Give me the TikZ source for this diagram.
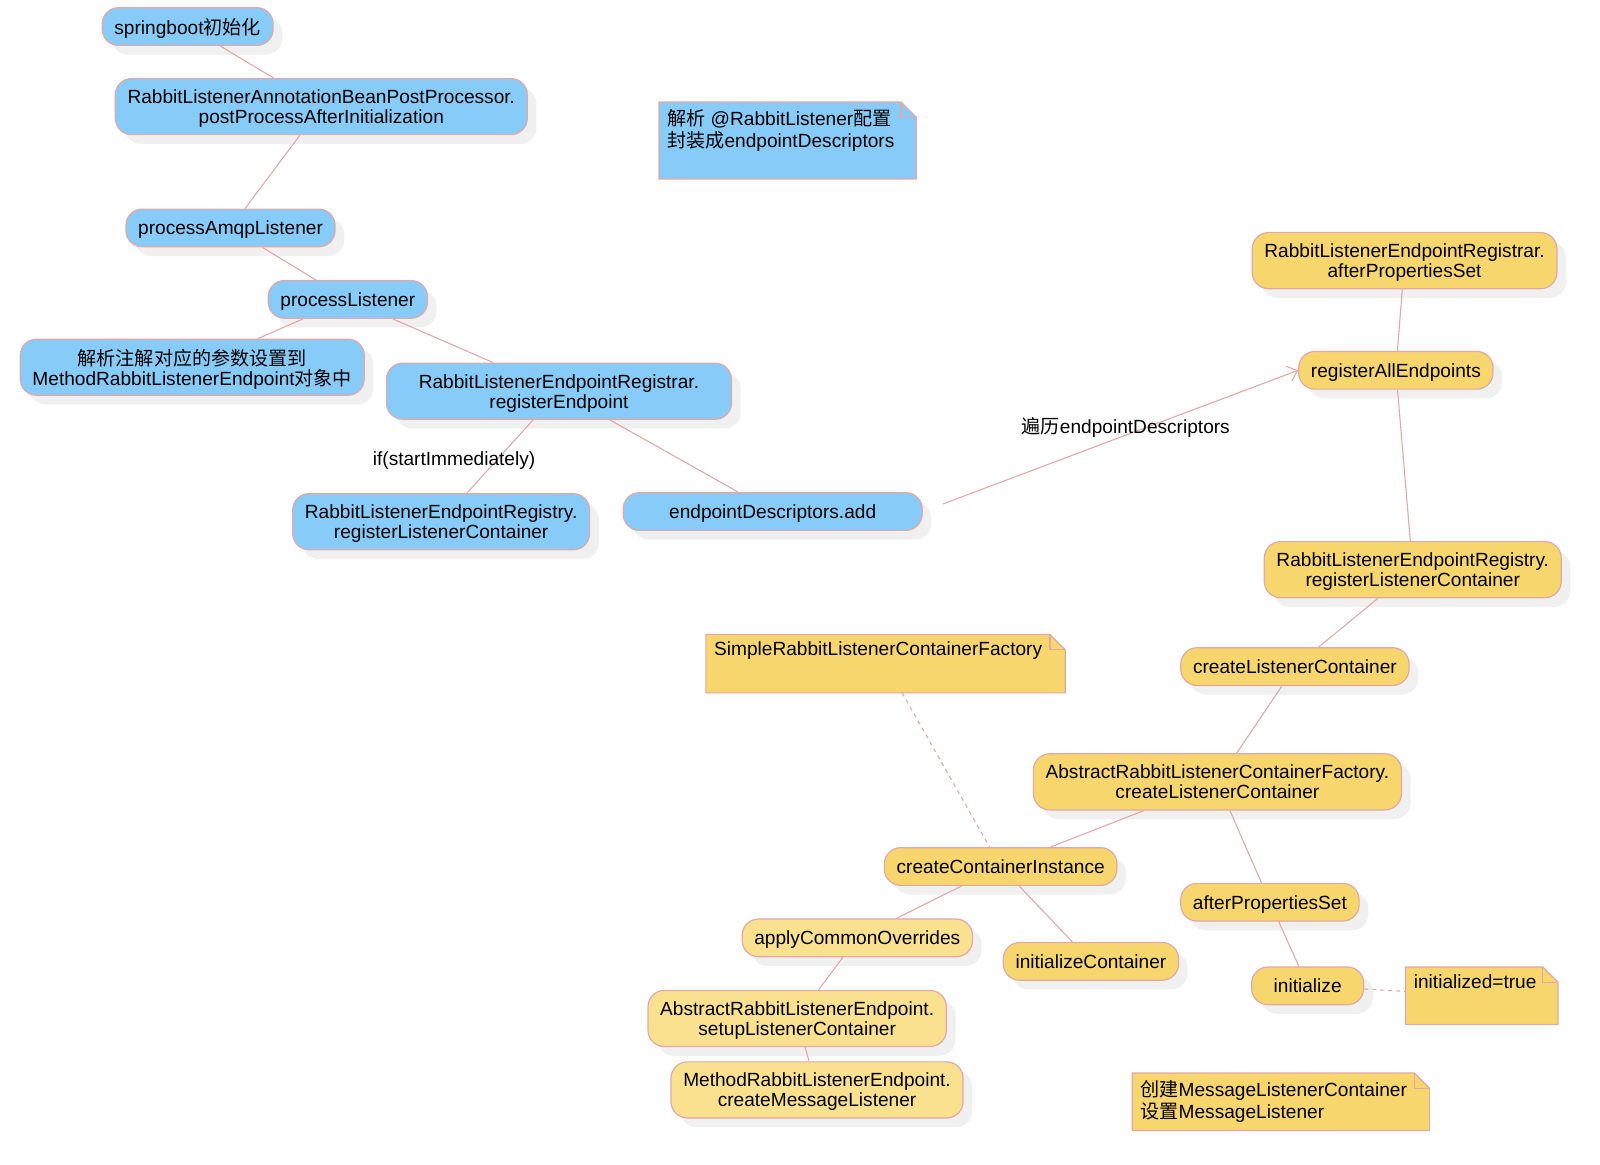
\documentclass[tikz,border=0pt]{standalone}
\usepackage{fontspec}
\setmainfont{Liberation Sans}
\newfontfamily\cjk{Noto Sans CJK SC}
\usetikzlibrary{shadows,arrows.meta}
\definecolor{nodeblue}{RGB}{135,204,249}
\definecolor{nodeyellow}{RGB}{248,214,110}
\definecolor{nodelight}{RGB}{250,225,143}
\definecolor{edgepink}{RGB}{226,168,168}

\begin{document}
\begin{tikzpicture}[x=1.02pt,y=-1.02pt,
    every node/.style={font=\fontsize{19.1}{19.9}\selectfont},
    box/.style={rounded corners=16.3pt, draw=edgepink, line width=1.2pt, inner xsep=12.2pt, inner ysep=2pt,
        minimum height=37.7pt, align=center, text depth=0pt,
        drop shadow={shadow xshift=9.2pt, shadow yshift=-9.2pt, fill=black!6, opacity=1}},
    bnode/.style={box, fill=nodeblue},
    ynode/.style={box, fill=nodeyellow},
    lnode/.style={box, fill=nodelight},
    twoline/.style={minimum height=56.1pt},
    notebox/.style={inner sep=0pt, anchor=north west},
    notetext/.style={anchor=north west, inner sep=4pt, align=left, font=\fontsize{19.1}{21.9}\selectfont},
    link/.style={draw=edgepink, line width=1.1pt},
    dotlink/.style={link, dash pattern=on 4pt off 4pt}]
    \useasboundingbox (0,0) rectangle (1568.6,1141.2);

    % blue part
    \node[bnode] (sb) at (184,26) {springboot{\cjk 初始化}};
    \node[bnode, twoline] (rabp) at (315,104.5) {RabbitListenerAnnotationBeanPostProcessor.\\postProcessAfterInitialization};
    \node[bnode] (pal) at (226,223.5) {processAmqpListener};
    \node[bnode] (pl) at (341,293.5) {processListener};
    \node[bnode, twoline] (parse) at (188.5,360) {{\cjk 解析注解对应的参数设置到}\\MethodRabbitListenerEndpoint{\cjk 对象中}};
    \node[bnode, twoline, minimum width=345pt] (regep) at (548,383.5) {RabbitListenerEndpointRegistrar.\\registerEndpoint};
    \node[bnode, twoline] (reglc) at (432.5,511.5) {RabbitListenerEndpointRegistry.\\registerListenerContainer};
    \node[bnode, minimum width=299pt] (add) at (757.5,501.5) {endpointDescriptors.add};

    % yellow part
    \node[ynode, twoline] (aps) at (1377,255.5) {RabbitListenerEndpointRegistrar.\\afterPropertiesSet};
    \node[ynode] (rae) at (1368.5,363) {registerAllEndpoints};
    \node[ynode, twoline] (reglcb) at (1385,558.5) {RabbitListenerEndpointRegistry.\\registerListenerContainer};
    \node[ynode] (clc) at (1269.5,653.5) {createListenerContainer};
    \node[ynode, twoline] (arlcf) at (1193.5,766.5) {AbstractRabbitListenerContainerFactory.\\createListenerContainer};
    \node[ynode] (cci) at (981,849.5) {createContainerInstance};
    \node[ynode] (afps) at (1245,884.5) {afterPropertiesSet};
    \node[lnode] (aco) at (840.5,919.5) {applyCommonOverrides};
    \node[ynode] (ic) at (1069.5,942.5) {initializeContainer};
    \node[ynode, minimum width=112pt] (init) at (1282,966.5) {initialize};
    \node[lnode, twoline] (arle) at (781.5,998.5) {AbstractRabbitListenerEndpoint.\\setupListenerContainer};
    \node[lnode, twoline] (mrle) at (801,1068.5) {MethodRabbitListenerEndpoint.\\createMessageListener};

    % notes
    \node[notebox, minimum width=257pt, minimum height=76.5pt] (pnote) at (646,100) {};
    \node[notebox, minimum width=359pt, minimum height=58pt] (fnote) at (692,622) {};
    \node[notebox, minimum width=152pt, minimum height=57pt] (inote) at (1378,948) {};
    \node[notebox, minimum width=297pt, minimum height=57pt] (cnote) at (1110,1052) {};
    \foreach \n/\c in {pnote/nodeblue, fnote/nodeyellow, inote/nodeyellow, cnote/nodeyellow} {
        \filldraw[fill=\c, draw=edgepink, line width=1.2pt] (\n.south west) -- (\n.north west)
            -- ([xshift=-15.3pt]\n.north east) -- ([yshift=-15.3pt]\n.north east) -- (\n.south east) -- cycle;
        \draw[draw=edgepink, line width=1.2pt] ([xshift=-15.3pt]\n.north east)
            -- ([xshift=-15.3pt,yshift=-15.3pt]\n.north east) -- ([yshift=-15.3pt]\n.north east);
    }
    \node[notetext] (pnotetxt) at ([shift={(4,3)}]pnote.north west) {{\cjk 解析} @RabbitListener{\cjk 配置}\\{\cjk 封装成}endpointDescriptors};
    \node[notetext] (fnotetxt) at ([shift={(4,3)}]fnote.north west) {SimpleRabbitListenerContainerFactory};
    \node[notetext] (inotetxt) at ([shift={(4,3)}]inote.north west) {initialized=true};
    \node[notetext] (cnotetxt) at ([shift={(4,3)}]cnote.north west) {{\cjk 创建}MessageListenerContainer\\{\cjk 设置}MessageListener};

    % connectors
    \draw[link] (sb) -- (rabp);
    \draw[link] (rabp) -- (pal);
    \draw[link] (pal) -- (pl);
    \draw[link] (pl) -- (parse);
    \draw[link] (pl) -- (regep);
    \draw[link] (regep) -- (reglc) node[midway, xshift=-46pt, yshift=-4pt] (ifl) {if(startImmediately)};
    \draw[link] (regep) -- (add);
    \draw[link, -{Straight Barb[length=9pt,width=16pt]}, shorten <=21.4pt] (add.east) -- (rae.west)
        node[midway, above, xshift=15.3pt] (loopl) {{\cjk 遍历}endpointDescriptors};
    \draw[link] (aps) -- (rae);
    \draw[link] (rae) -- (reglcb);
    \draw[link] (reglcb) -- (clc);
    \draw[link] (clc) -- (arlcf);
    \draw[link] (arlcf) -- (cci);
    \draw[link] (arlcf) -- (afps);
    \draw[link] (cci) -- (aco);
    \draw[link] (cci) -- (ic);
    \draw[link] (aco) -- (arle);
    \draw[link] (arle) -- (mrle);
    \draw[link] (afps) -- (init);
    \draw[dotlink] (fnote) -- (cci);
    \draw[dotlink] (init) -- (inote);
\end{tikzpicture}
\end{document}
